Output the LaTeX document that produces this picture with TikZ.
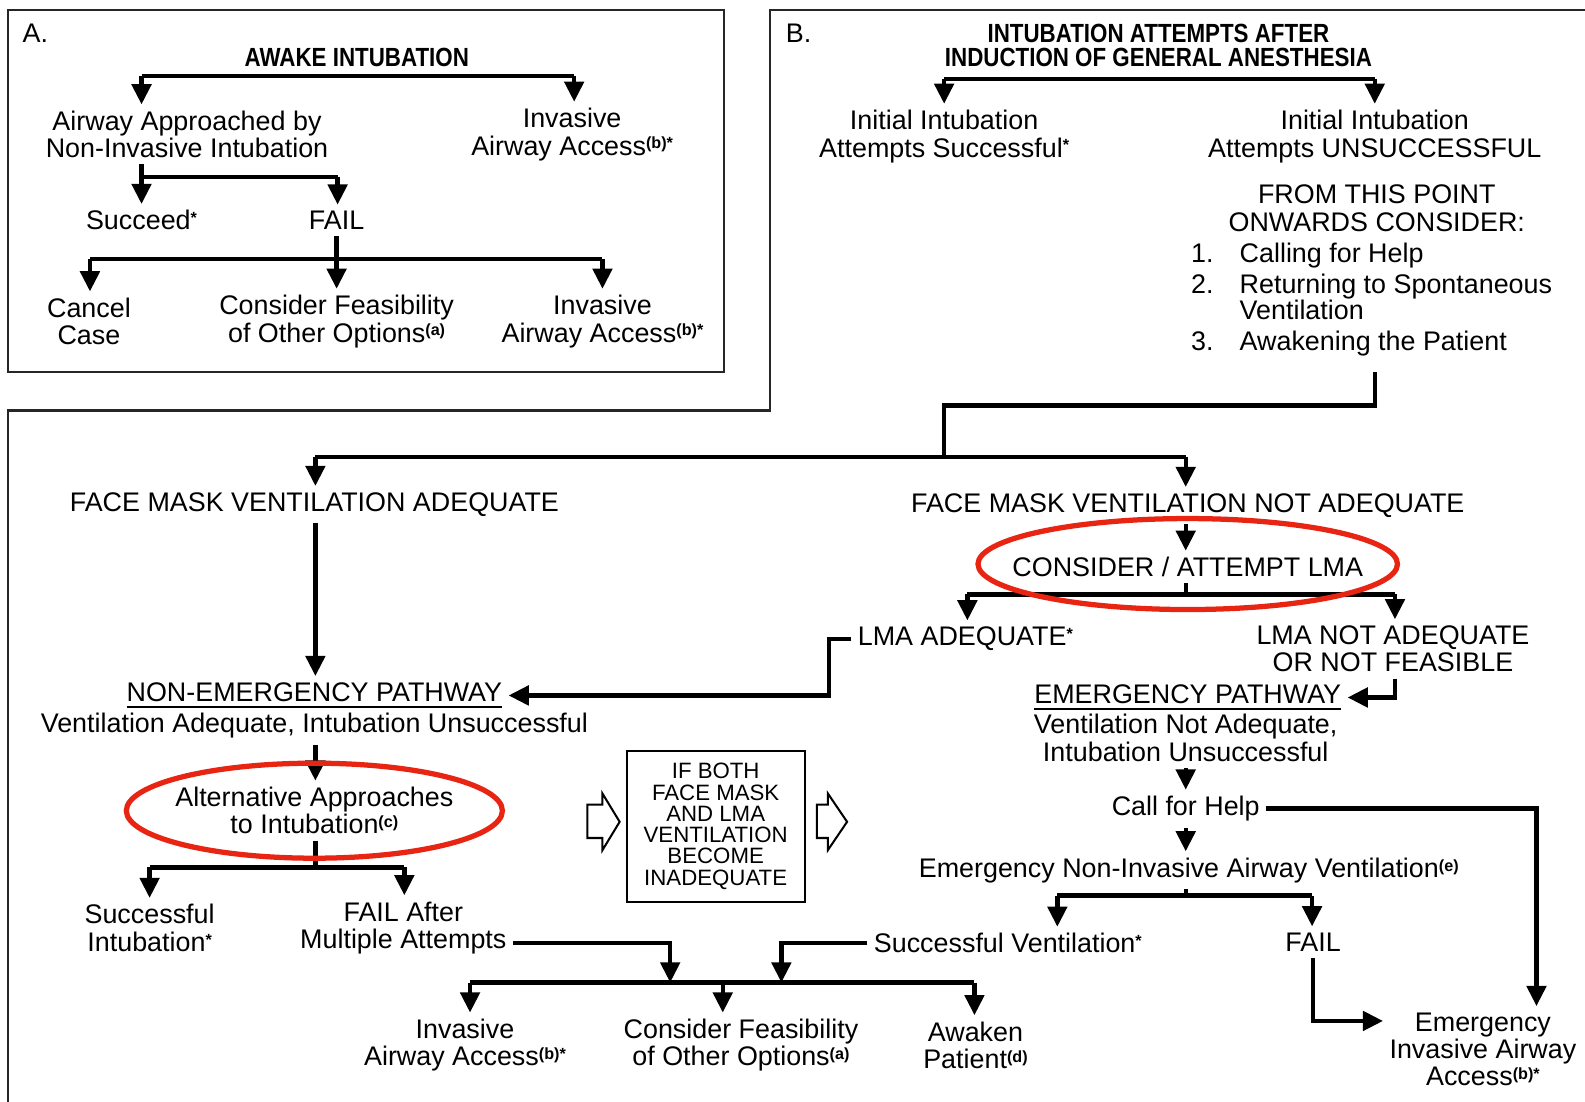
\documentclass[tikz,border=0pt]{standalone}
\usepackage{fontspec}
\setmainfont{Liberation Sans}
\newfontfamily\titlefont[FakeStretch=0.85]{Liberation Sans Bold}
\usetikzlibrary{arrows.meta,shapes.geometric}
\definecolor{ringred}{RGB}{232,36,18}
\newcommand\fn[1]{\smash{\raisebox{3pt}{\fontsize{8}{8}\selectfont\bfseries #1}}}
\newcommand\ulbar[1]{\setbox0=\hbox{#1}\rlap{\rule[-3.5pt]{\wd0}{1.1pt}}\box0}
\tikzset{
  txt/.style={font=\fontsize{13.3}{13.5}\selectfont, align=center, inner sep=3pt},
  ttl/.style={font=\titlefont\fontsize{13}{12}\selectfont, align=center, inner sep=2pt},
  boxtxt/.style={font=\fontsize{11}{10.5}\selectfont, align=center},
  ln/.style={line width=2.2pt},
  arr/.style={line width=2.2pt, -{Triangle[width=9.5pt,length=10pt]}},
  frame/.style={line width=1.2pt, black!85},
  ring/.style={draw=ringred, line width=2.6pt, ellipse, inner sep=0pt},
}
\begin{document}
\begin{tikzpicture}[x=0.5pt, y=-0.5pt]
    \useasboundingbox (0,0) rectangle (1568,1090);
    \draw[frame] (8,10) rectangle (716,368);
    \draw[frame] (1568,10) -- (762,10) -- (762,406) -- (8,406) -- (8,1090);

    \node[txt] (lblA) at (35,33) {A.};
    \node[ttl] (awake) at (353,57) {AWAKE INTUBATION};
    \node[txt] (nonInv) at (185,133) {Airway Approached by\\Non-Invasive Intubation};
    \node[txt] (invA1) at (566,133) {Invasive\\Airway Access\fn{(b)*}};
    \node[txt] (succ) at (140,218) {Succeed\fn{*}};
    \node[txt] (failA) at (333,218) {FAIL};
    \node[txt] (cancel) at (88,318) {Cancel\\Case};
    \node[txt] (feasA) at (333,318) {Consider Feasibility\\of Other Options\fn{(a)}};
    \node[txt] (invA2) at (596,318) {Invasive\\Airway Access\fn{(b)*}};

    \coordinate (aL) at (140,75); \coordinate (aR) at (568,75);
    \coordinate (bL) at (140,175); \coordinate (bR) at (334,175);
    \coordinate (cL) at (89,256); \coordinate (cM) at (333,256); \coordinate (cR) at (596,256);
    \draw[ln] (aL) -- (aR);
    \draw[arr] (aL) -- (aL |- nonInv.north);
    \draw[arr] (aR) -- (aR |- invA1.north);
    \draw[ln] (nonInv.south -| bL) -- (bL) -- (bR);
    \draw[arr] (bL) -- (bL |- succ.north);
    \draw[arr] (bR) -- (bR |- failA.north);
    \draw[ln] (failA.south -| cM) -- (cM);
    \draw[ln] (cL) -- (cR);
    \draw[arr] (cL) -- (cL |- cancel.north);
    \draw[arr] (cM) -- (cM |- feasA.north);
    \draw[arr] (cR) -- (cR |- invA2.north);

    \node[txt] (lblB) at (790,33) {B.};
    \node[ttl] (induct) at (1146,45) {INTUBATION ATTEMPTS AFTER\\INDUCTION OF GENERAL ANESTHESIA};
    \node[txt] (initOK) at (934,135) {Initial Intubation\\Attempts Successful\fn{*}};
    \node[txt] (initNo) at (1360,135) {Initial Intubation\\Attempts UNSUCCESSFUL};
    \node[txt] (fromPt) at (1362,206) {FROM THIS POINT\\ONWARDS CONSIDER:};
    \node[txt, font=\fontsize{13.3}{12.5}\selectfont, align=left, anchor=north west, inner sep=0pt] (consider) at (1178,240)
        {\makebox[24pt][l]{1.}Calling for Help\\[3pt]
         \makebox[24pt][l]{2.}Returning to Spontaneous\\
         \makebox[24pt][l]{}Ventilation\\[3pt]
         \makebox[24pt][l]{3.}Awakening the Patient};

    \node[txt] (fmOK) at (311,499) {FACE MASK VENTILATION ADEQUATE};
    \node[txt] (fmNo) at (1175,500) {FACE MASK VENTILATION NOT ADEQUATE};
    \node[txt] (nonEm) at (311,688) {\ulbar{NON-EMERGENCY PATHWAY}};
    \node[txt] (nonEmSub) at (311,718) {Ventilation Adequate, Intubation Unsuccessful};
    \node[txt] (lma) at (1175,561) {CONSIDER / ATTEMPT LMA};
    \node[txt] (lmaOK) at (955,632) {LMA ADEQUATE\fn{*}};
    \node[txt] (lmaNo) at (1378,642) {LMA NOT ADEQUATE\\OR NOT FEASIBLE};
    \node[txt] (emPath) at (1175,690) {\ulbar{EMERGENCY PATHWAY}};
    \node[txt] (emSub) at (1173,730) {Ventilation Not Adequate,\\Intubation Unsuccessful};
    \node[txt] (help) at (1173,800) {Call for Help};
    \node[txt] (emNIV) at (1176,861) {Emergency Non-Invasive Airway Ventilation\fn{(e)}};
    \node[txt] (succV) at (997,933) {Successful Ventilation\fn{*}};
    \node[txt] (failB) at (1299,932) {FAIL};
    \node[txt] (emIAA) at (1467,1038) {Emergency\\Invasive Airway\\Access\fn{(b)*}};

    \node[txt] (alt) at (311,802) {Alternative Approaches\\to Intubation\fn{(c)}};
    \node[txt] (succI) at (148,918) {Successful\\Intubation\fn{*}};
    \node[txt] (failM) at (399,918) {FAIL After\\Multiple Attempts};
    \node[txt] (invB) at (460,1034) {Invasive\\Airway Access\fn{(b)*}};
    \node[txt] (feasB) at (733,1034) {Consider Feasibility\\of Other Options\fn{(a)}};
    \node[txt] (awaken) at (965,1034) {Awaken\\Patient\fn{(d)}};
    \node[draw, line width=1pt, boxtxt, minimum width=88pt, minimum height=74.5pt] (both) at (708,817.5)
        {IF BOTH\\FACE MASK\\AND LMA\\VENTILATION\\BECOME\\INADEQUATE};

    \coordinate (dL) at (934,78); \coordinate (dR) at (1360,78);
    \coordinate (eA) at (1360,368); \coordinate (eB) at (934,401); \coordinate (fM) at (934,452);
    \coordinate (fL) at (312,452); \coordinate (fR) at (1173,452);
    \coordinate (gL) at (957,588); \coordinate (gM) at (1173,588); \coordinate (gR) at (1380,588);
    \coordinate (hBend) at (820,660);
    \coordinate (hR) at (1520,800);
    \coordinate (iL) at (1046,886); \coordinate (iM) at (1173,886); \coordinate (iR) at (1298,886);
    \coordinate (lL) at (148,858); \coordinate (lM) at (312,858); \coordinate (lR) at (400,858);
    \coordinate (kF) at (663,972); \coordinate (kS) at (773,972);
    \coordinate (mL) at (465,972); \coordinate (mM) at (715,972); \coordinate (mR) at (964,972);

    \draw[ln] (dL) -- (dR);
    \draw[arr] (dL) -- (dL |- initOK.north);
    \draw[arr] (dR) -- (dR |- initNo.north);
    \draw[ln] (eA) |- (eB) -- (fM);
    \draw[ln] (fL) -- (fR);
    \draw[arr] (fL) -- (fL |- fmOK.north);
    \draw[arr] (fR) -- (fR |- fmNo.north);
    \draw[arr] (fmOK.south -| fL) -- (nonEm.north -| fL);
    \draw[arr] (fmNo.south -| fR) -- (lma.north -| fR);
    \draw[ln] (lma.south -| gM) -- (gM);
    \draw[ln] (gL) -- (gR);
    \draw[arr] (gL) -- (gL |- lmaOK.north);
    \draw[arr] (gR) -- (gR |- lmaNo.north);
    \draw[arr] (lmaOK.west) -| (hBend) |- (nonEm.east);
    \draw[arr] (lmaNo.south -| gR) |- (emPath.east);
    \draw[arr] (emSub.south) -- (help.north);
    \draw[arr] (help.south) -- (help.south |- emNIV.north);
    \draw[arr] (help.east) -- (hR) -- (hR |- emIAA.north);
    \draw[ln] (emNIV.south -| iM) -- (iM);
    \draw[ln] (iL) -- (iR);
    \draw[arr] (iL) -- (iL |- succV.north);
    \draw[arr] (iR) -- (iR |- failB.north);
    \draw[arr] (failB.south) |- ([yshift=14pt]emIAA.west);
    \draw[arr] (succV.west) -| (kS);

    \draw[arr] (nonEmSub.south -| fL) -- (alt.north -| fL);
    \draw[ln] (alt.south -| lM) -- (lM);
    \draw[ln] (lL) -- (lR);
    \draw[arr] (lL) -- (lL |- succI.north);
    \draw[arr] (lR) -- (lR |- failM.north);
    \draw[arr] ([yshift=-7.5pt]failM.east) -| (kF);
    \draw[ln] (mL) -- (mR);
    \draw[arr] (mL) -- (mL |- invB.north);
    \draw[arr] (mM) -- (mM |- feasB.north);
    \draw[arr] (mR) -- (mR |- awaken.north);

    \draw[line width=1pt] (581,796) -- (596,796) -- (596,785) -- (613,813) -- (596,841) -- (596,829) -- (581,829) -- cycle;
    \draw[line width=1pt] (808,796) -- (819,796) -- (819,785) -- (838,813) -- (819,841) -- (819,829) -- (808,829) -- cycle;

    \node[ring, minimum width=207.5pt, minimum height=45pt] (lmaRing) at (1175,558) {};
    \node[ring, minimum width=186pt, minimum height=47pt] (altRing) at (311,802) {};
\end{tikzpicture}
\end{document}
